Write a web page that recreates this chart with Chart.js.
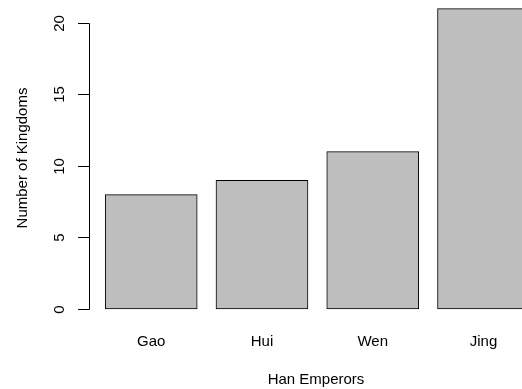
<!DOCTYPE html>
<html lang="en">
<head>
    <meta charset="UTF-8">
    <title>Han Emperors</title>
    <style>
        body {
            margin: 0;
            background: #ffffff;
        }
        #wrap {
            width: 522px;
            height: 389px;
        }
    </style>
    <script src="https://cdn.jsdelivr.net/npm/chart.js"></script>
</head>
<body>
    <div id="wrap">
        <canvas id="kingdomChart" width="522" height="389"></canvas>
    </div>

    <script>
        // Kingdoms under each emperor
        var emperors = ['Gao', 'Hui', 'Wen', 'Jing'];
        var kingdoms = [8, 9, 11, 21];
        var yTicks = [0, 5, 10, 15, 20];

        var FONT = '"Liberation Sans", Arial, sans-serif';
        var FONT_SIZE = 15;

        // barplot-style layout: width 1, space 0.2
        function barCenter(i) {
            return 0.7 + i * 1.2;
        }

        var points = kingdoms.map(function (v, i) {
            return { x: barCenter(i), y: v };
        });

        // Axis, ticks and titles drawn in base-graphics style
        var axesPlugin = {
            id: 'baseAxes',
            afterDraw: function (chart) {
                var ctx = chart.ctx;
                var xs = chart.scales.x;
                var ys = chart.scales.y;
                var axisX = chart.chartArea.left;

                ctx.save();
                ctx.strokeStyle = '#000';
                ctx.lineWidth = 1;
                ctx.fillStyle = '#000';
                ctx.font = FONT_SIZE + 'px ' + FONT;

                // y axis line
                var y0 = Math.round(ys.getPixelForValue(yTicks[0])) + 0.5;
                var y1 = Math.round(ys.getPixelForValue(yTicks[yTicks.length - 1])) + 0.5;
                ctx.beginPath();
                ctx.moveTo(axisX + 0.5, y0);
                ctx.lineTo(axisX + 0.5, y1);
                ctx.stroke();

                // ticks + rotated labels
                yTicks.forEach(function (t) {
                    var py = Math.round(ys.getPixelForValue(t)) + 0.5;
                    ctx.beginPath();
                    ctx.moveTo(axisX - 11, py);
                    ctx.lineTo(axisX + 0.5, py);
                    ctx.stroke();

                    ctx.save();
                    ctx.translate(60, py);
                    ctx.rotate(-Math.PI / 2);
                    ctx.textAlign = 'center';
                    ctx.textBaseline = 'middle';
                    ctx.fillText(String(t), 0, 0);
                    ctx.restore();
                });

                // category names under the bars
                ctx.textAlign = 'center';
                ctx.textBaseline = 'middle';
                emperors.forEach(function (name, i) {
                    ctx.fillText(name, xs.getPixelForValue(barCenter(i)), 342);
                });

                // axis titles
                ctx.fillText('Han Emperors', 316, 380);

                ctx.save();
                ctx.translate(23, 158);
                ctx.rotate(-Math.PI / 2);
                ctx.fillText('Number of Kingdoms', 0, 0);
                ctx.restore();

                ctx.restore();
            }
        };

        var chart = new Chart(document.getElementById('kingdomChart'), {
            type: 'bar',
            data: {
                datasets: [{
                    data: points,
                    backgroundColor: '#bebebe',
                    borderColor: '#000000',
                    borderWidth: 1,
                    borderSkipped: false,
                    barThickness: 92
                }]
            },
            options: {
                responsive: false,
                animation: false,
                devicePixelRatio: 1,
                layout: {
                    padding: { left: 89, right: 0, top: 0, bottom: 68 }
                },
                plugins: {
                    legend: { display: false },
                    tooltip: { enabled: false }
                },
                scales: {
                    x: {
                        type: 'linear',
                        offset: false,
                        min: 0.026,
                        max: 4.717,
                        display: false
                    },
                    y: {
                        min: -0.84,
                        max: 21.608,
                        display: false
                    }
                }
            },
            plugins: [axesPlugin]
        });
    </script>
</body>
</html>
